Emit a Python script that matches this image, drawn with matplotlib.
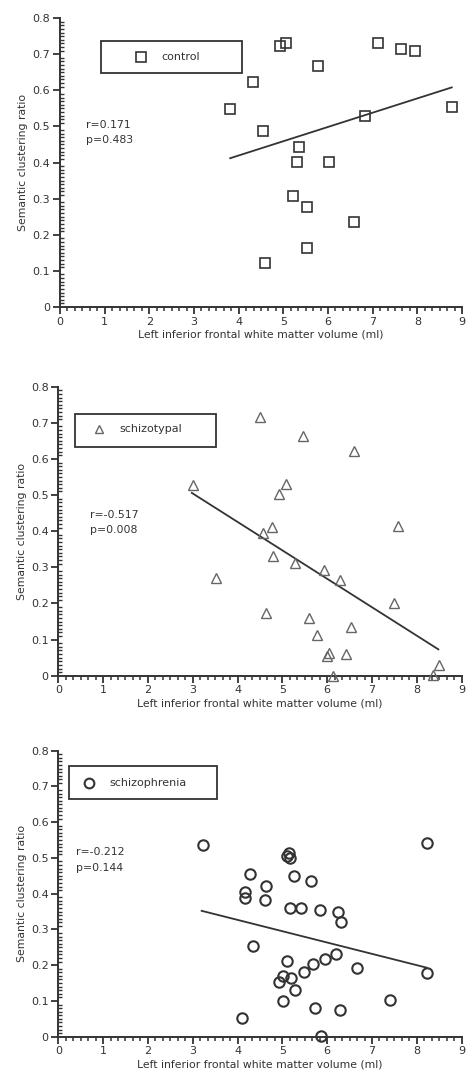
import numpy as np
import matplotlib
matplotlib.use("Agg")
import matplotlib.pyplot as plt
from matplotlib.ticker import MultipleLocator, AutoMinorLocator
from matplotlib.patches import Rectangle

# ---- data ----
control_x = [4.93, 5.07, 5.78, 4.31, 3.81, 4.55, 5.36, 5.30, 6.02, 7.11, 7.63, 7.94,
             6.83, 8.77, 5.22, 5.54, 6.58, 5.52, 4.59]
control_y = [0.723, 0.730, 0.667, 0.623, 0.548, 0.488, 0.444, 0.401, 0.401, 0.730,
             0.714, 0.709, 0.529, 0.555, 0.308, 0.278, 0.236, 0.164, 0.121]
control_fit_x = [3.81, 8.77]
control_fit_y = [0.412, 0.608]

schizotypal_x = [4.50, 5.45, 6.60, 3.01, 5.08, 4.93, 4.76, 4.57, 7.57, 4.78, 5.28,
                 5.92, 6.29, 3.52, 7.50, 4.63, 5.60, 6.53, 5.77, 6.05, 6.00, 6.42,
                 6.14, 8.50, 8.36]
schizotypal_y = [0.716, 0.663, 0.622, 0.529, 0.532, 0.503, 0.412, 0.394, 0.415, 0.331,
                 0.311, 0.293, 0.265, 0.270, 0.200, 0.173, 0.161, 0.136, 0.113, 0.062,
                 0.055, 0.060, 0.000, 0.030, 0.002]
schizotypal_fit_x = [2.98, 8.48]
schizotypal_fit_y = [0.506, 0.073]

schizophrenia_x = [3.24, 8.22, 5.10, 5.15, 5.18, 4.28, 5.25, 5.63, 4.63, 4.17, 4.17,
                   4.61, 5.16, 5.42, 5.85, 6.25, 6.30, 4.34, 6.20, 5.95, 5.11, 5.69,
                   6.66, 5.01, 5.19, 4.93, 5.48, 8.22, 5.28, 5.01, 7.40, 5.73, 6.29,
                   4.11, 5.86]
schizophrenia_y = [0.535, 0.542, 0.505, 0.515, 0.500, 0.454, 0.449, 0.436, 0.421, 0.405,
                   0.389, 0.383, 0.361, 0.361, 0.355, 0.349, 0.321, 0.253, 0.231, 0.217,
                   0.211, 0.203, 0.191, 0.169, 0.163, 0.153, 0.181, 0.179, 0.130, 0.100,
                   0.102, 0.079, 0.074, 0.051, 0.003]
schizophrenia_fit_x = [3.20, 8.22]
schizophrenia_fit_y = [0.352, 0.193]

groups = ["control", "schizotypal", "schizophrenia"]
stats = ["r=0.171\np=0.483", "r=-0.517\np=0.008", "r=-0.212\np=0.144"]

INK = "#333333"
plt.rcParams["font.family"] = ["DejaVu Sans"]

fig = plt.figure(figsize=(4.66, 10.81), dpi=100)

panels = [
    dict(rect=[0.1288, 0.716, 0.8627, 0.2673], x=control_x, y=control_y,
         fx=control_fit_x, fy=control_fit_y, marker="s", ms=7.5, mec="#333333", mew=1.2,
         box=(0.102, 0.810, 0.351, 0.110), mpos=(0.201, 0.865), tpos=0.251,
         spos=(0.065, 0.604)),
    dict(rect=[0.125, 0.3749, 0.8657, 0.2674], x=schizotypal_x, y=schizotypal_y,
         fx=schizotypal_fit_x, fy=schizotypal_fit_y, marker="^", ms=6.5, mec="#666666", mew=1.0,
         box=(0.041, 0.791, 0.350, 0.115), mpos=(0.101, 0.852), tpos=0.151,
         spos=(0.079, 0.530)),
    dict(rect=[0.125, 0.041, 0.8657, 0.2646], x=schizophrenia_x, y=schizophrenia_y,
         fx=schizophrenia_fit_x, fy=schizophrenia_fit_y, marker="o", ms=7.5, mec="#333333", mew=1.5,
         box=(0.027, 0.831, 0.366, 0.117), mpos=(0.076, 0.887), tpos=0.128,
         spos=(0.044, 0.618)),
]

for p, name, st in zip(panels, groups, stats):
    ax = fig.add_axes(p["rect"])
    ax.plot(p["x"], p["y"], linestyle="none", marker=p["marker"], ms=p["ms"],
            mfc="none", mec=p["mec"], mew=p["mew"], clip_on=False, zorder=3)
    ax.plot(p["fx"], p["fy"], color=INK, lw=1.3)

    ax.set_xlim(0, 9)
    ax.set_ylim(0, 0.8)
    ax.xaxis.set_major_locator(MultipleLocator(1))
    ax.xaxis.set_minor_locator(AutoMinorLocator(6))
    ax.yaxis.set_minor_locator(AutoMinorLocator(10))
    ax.set_yticks(np.arange(0, 0.81, 0.1))
    ax.set_yticklabels(["0"] + [f"{v:.1f}" for v in np.arange(0.1, 0.81, 0.1)])
    ax.spines[["top", "right"]].set_visible(False)
    for s in ["left", "bottom"]:
        ax.spines[s].set_color(INK)
        ax.spines[s].set_linewidth(1.4)
    ax.tick_params(axis="both", which="major", colors=INK, labelsize=8,
                   length=5, width=1.3, direction="out", pad=2)
    ax.tick_params(axis="x", which="minor", colors=INK, length=3, width=1.1,
                   direction="out")
    ax.tick_params(axis="y", which="minor", colors=INK, length=3, width=1.0,
                   direction="in")
    ax.set_xlabel("Left inferior frontal white matter volume (ml)", fontsize=7.8,
                  color=INK, labelpad=2)
    ax.set_ylabel("Semantic clustering ratio", fontsize=7.8, color=INK, labelpad=3)

    bx, by, bw, bh = p["box"]
    ax.add_patch(Rectangle((bx, by), bw, bh, transform=ax.transAxes, fill=False,
                           edgecolor=INK, lw=1.3))
    ax.plot([p["mpos"][0]], [p["mpos"][1]], transform=ax.transAxes,
            marker=p["marker"], ms=p["ms"] - 0.5, mfc="none", mec=p["mec"],
            mew=p["mew"], linestyle="none")
    ax.text(p["tpos"], p["mpos"][1], name, transform=ax.transAxes, fontsize=8,
            color=INK, va="center", ha="left")
    ax.text(p["spos"][0], p["spos"][1], st, transform=ax.transAxes, fontsize=7.8,
            color=INK, va="center", ha="left", linespacing=1.7)

fig.savefig("out.png", dpi=100)
